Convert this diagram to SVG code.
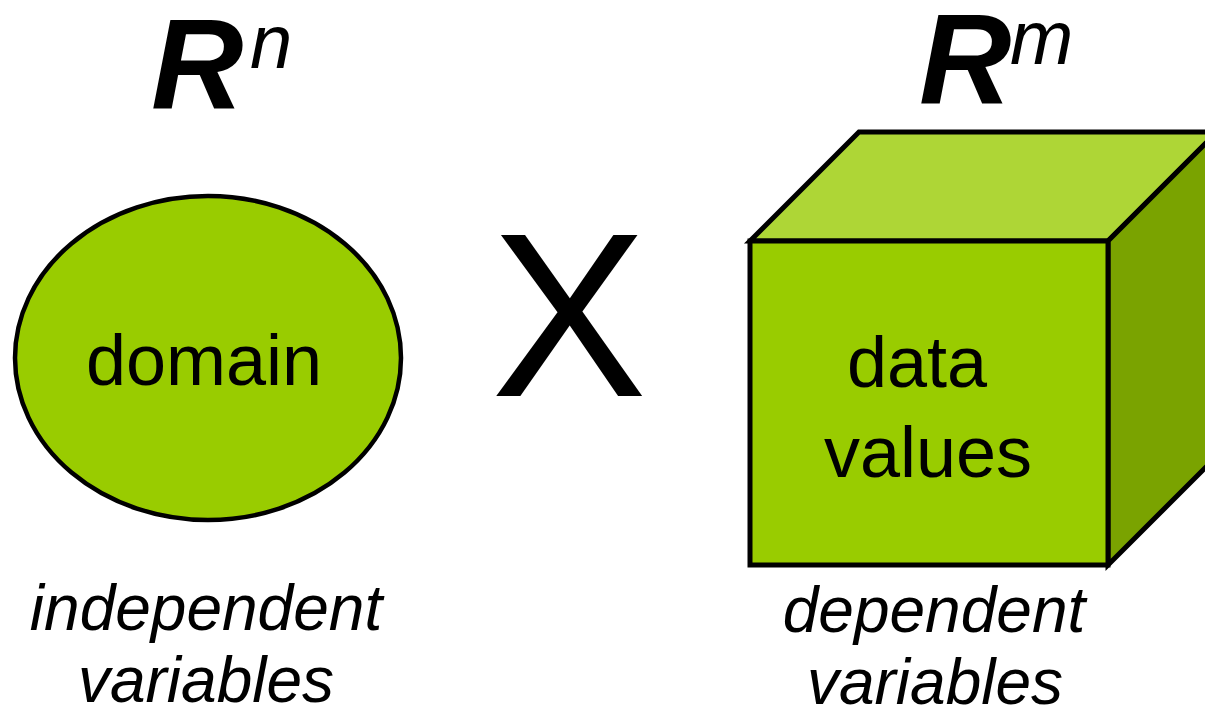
<svg xmlns="http://www.w3.org/2000/svg" width="1205" height="711" viewBox="0 0 1205 711">
<style>
text{font-family:"Liberation Sans",Arial,sans-serif;fill:#000}
.lbl{font-size:72px;text-anchor:middle}
.cap{font-size:64px;font-style:italic;text-anchor:middle}
.big{font-weight:bold;font-style:italic;font-size:128px}
.sup{font-style:italic;font-size:76px}
.edge{stroke:#000;stroke-width:5;stroke-linejoin:miter}
</style>
<rect width="1205" height="711" fill="#fff"/>
<g id="title-rn"><text x="151" y="108" class="big">R</text><text x="250" y="68" class="sup">n</text></g>
<g id="title-rm"><text x="919" y="103" class="big">R</text><text x="1010" y="64" class="sup">m</text></g>
<g id="domain">
<ellipse cx="208" cy="358" rx="193" ry="162" fill="#99CC00" stroke="#000" stroke-width="4.5"/>
<text x="204" y="385" class="lbl">domain</text>
</g>
<g id="times"><text x="569" y="396" style="font-size:234px;text-anchor:middle">X</text></g>
<g id="data-values">
<polygon points="750,241 859,132 1217,132 1108,241" fill="#AED636" class="edge"/>
<polygon points="1108,241 1217,132 1217,456 1108,565" fill="#7AA300" class="edge"/>
<rect x="750" y="241" width="358" height="324" fill="#99CC00" class="edge"/>
<text x="917" y="387" class="lbl">data</text>
<text x="928" y="477" class="lbl">values</text>
</g>
<g id="caption-left"><text x="206" y="630" class="cap">independent</text><text x="206" y="702" class="cap">variables</text></g>
<g id="caption-right"><text x="934" y="632" class="cap">dependent</text><text x="935" y="704" class="cap">variables</text></g>
<g id="connectors"></g>
</svg>
